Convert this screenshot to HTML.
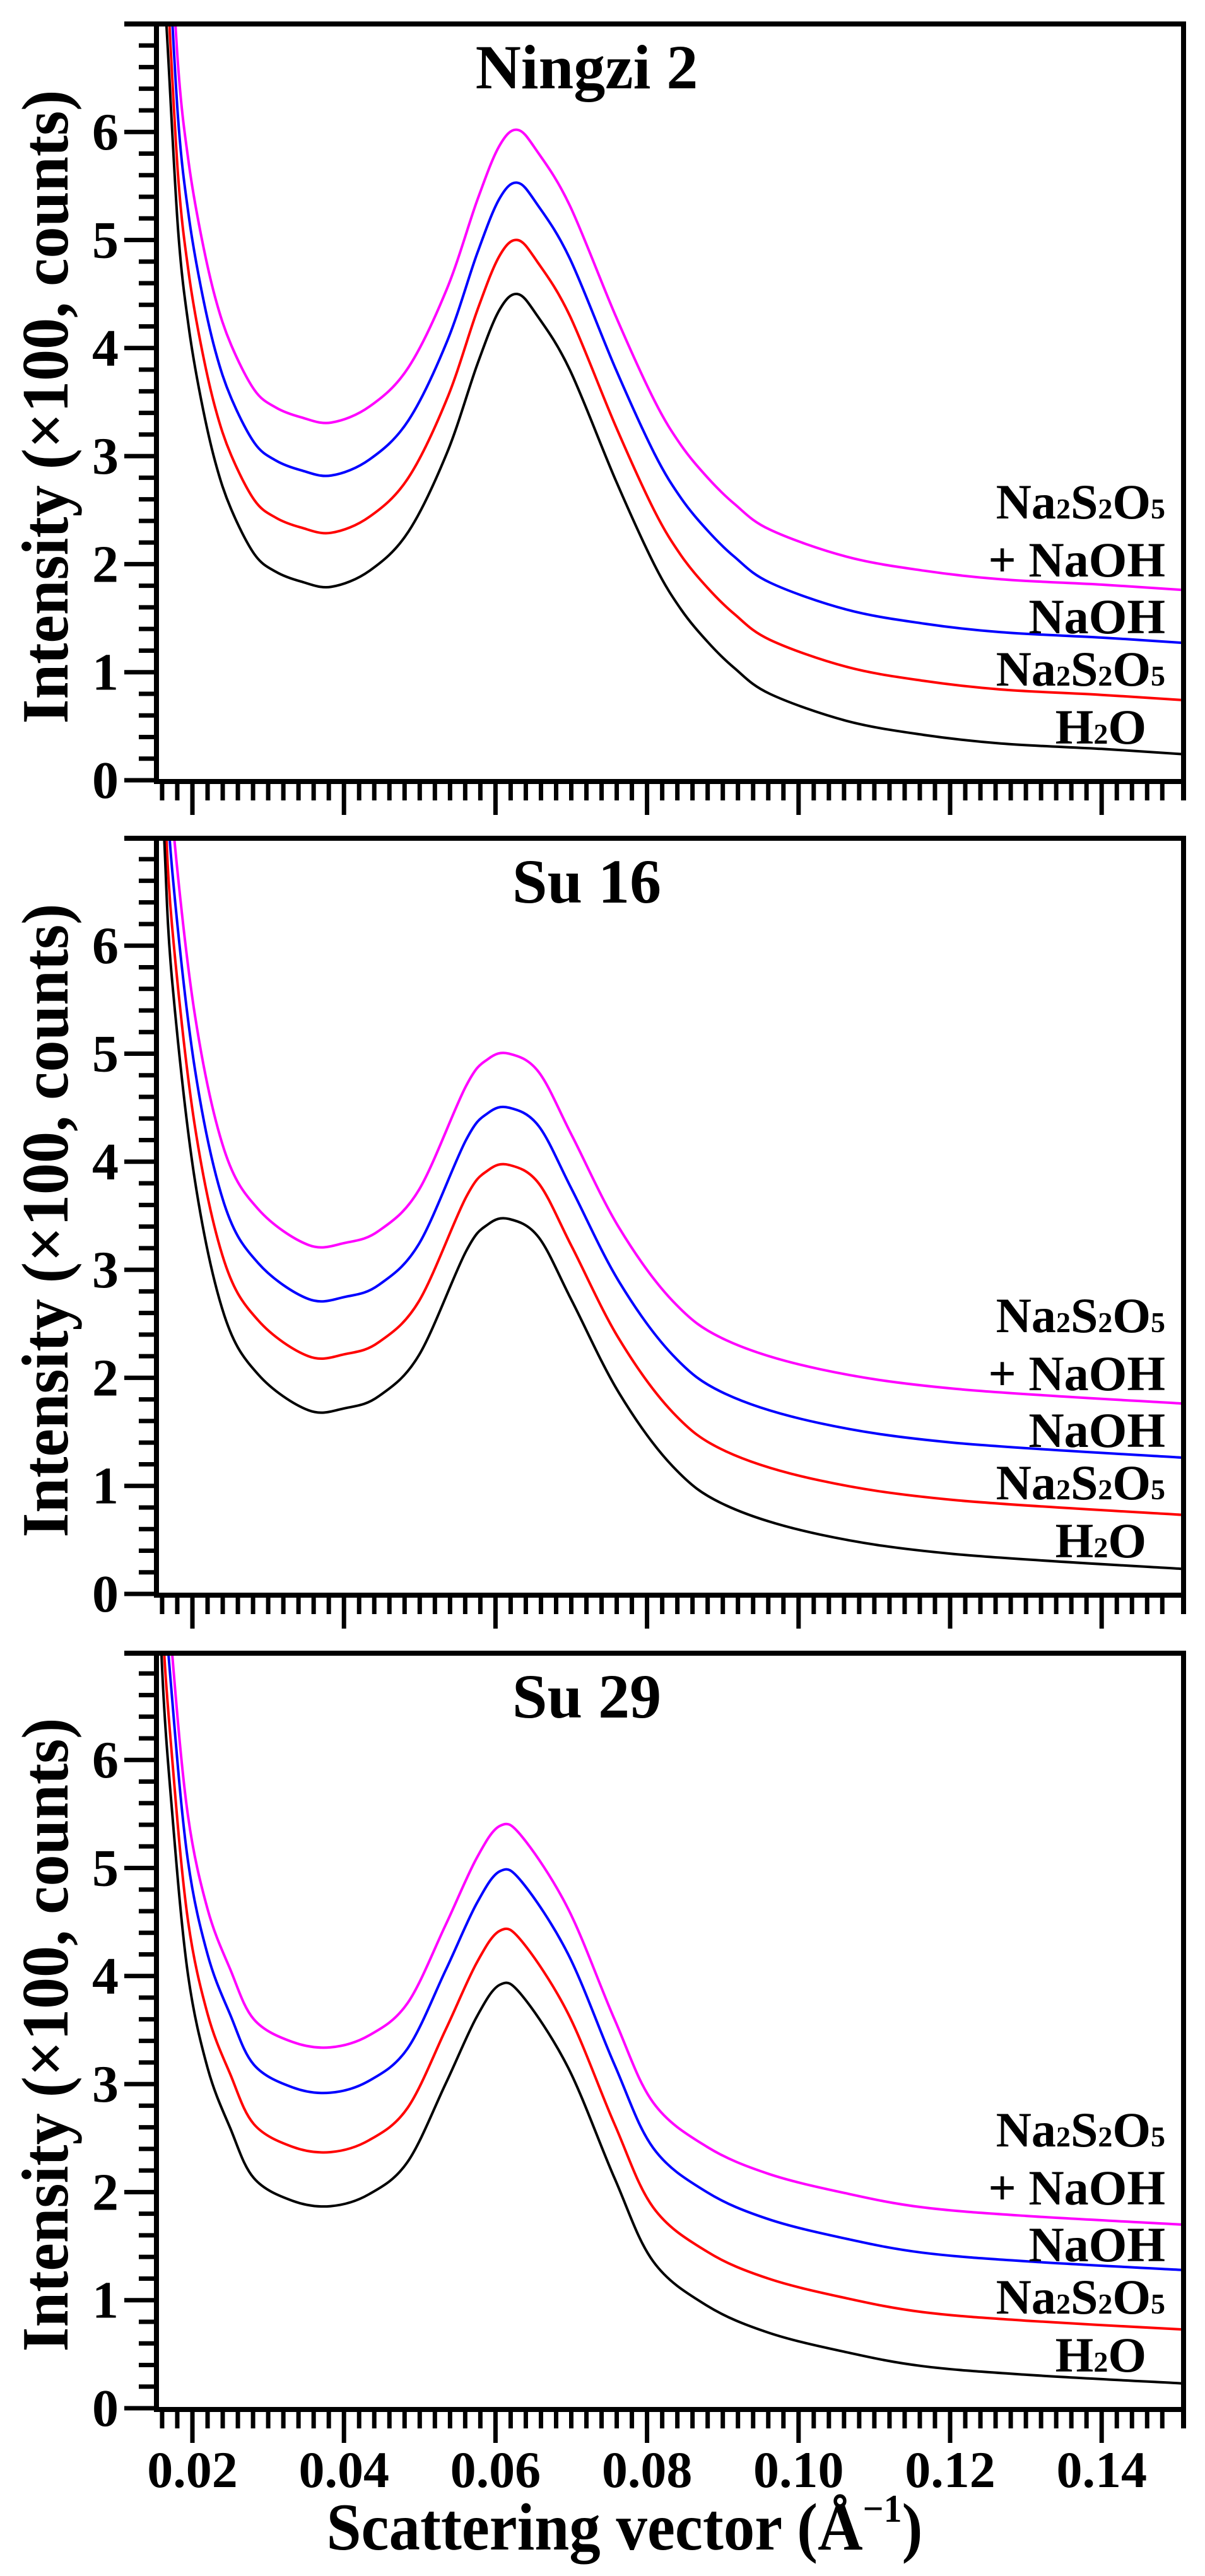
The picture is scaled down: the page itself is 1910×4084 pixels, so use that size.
<!DOCTYPE html>
<html><head><meta charset="utf-8">
<style>
html,body{margin:0;padding:0;background:#fff;}
svg{display:block;}
text{font-family:"Liberation Serif","DejaVu Serif",serif;font-weight:bold;fill:#000;}
</style></head>
<body>
<svg id="s" width="1910" height="4084" viewBox="0 0 1910 4084" xmlns="http://www.w3.org/2000/svg">
<rect width="1910" height="4084" fill="#fff"/>
<g id="g"></g>
<text x="990" y="4042" font-size="106" text-anchor="middle" textLength="945" lengthAdjust="spacingAndGlyphs">Scattering vector (Å<tspan font-size="62" dy="-44">−1</tspan><tspan dy="44">)</tspan></text>
</svg>
<script>
const NS="http://www.w3.org/2000/svg";
const g=document.getElementById('g');
const U=171.3;
const X=q=>305+(q-0.02)*12010;
function el(t,a,txt){const e=document.createElementNS(NS,t);for(const k in a)e.setAttribute(k,a[k]);if(txt!==undefined)e.textContent=txt;g.appendChild(e);return e;}
function path(pts){
 let d="M"+pts[0][0].toFixed(1)+","+pts[0][1].toFixed(1);
 for(let i=0;i<pts.length-1;i++){
  const p0=pts[i-1]||pts[i],p1=pts[i],p2=pts[i+1],p3=pts[i+2]||p2;
  const c1=[p1[0]+(p2[0]-p0[0])/6,p1[1]+(p2[1]-p0[1])/6];
  const c2=[p2[0]-(p3[0]-p1[0])/6,p2[1]-(p3[1]-p1[1])/6];
  d+=" C"+c1[0].toFixed(1)+","+c1[1].toFixed(1)+" "+c2[0].toFixed(1)+","+c2[1].toFixed(1)+" "+p2[0].toFixed(1)+","+p2[1].toFixed(1);
 }
 return d;
}
const panels=[
 {top:38,zero:1237,title:"Ningzi 2",off:[0,.5,1.03,1.52],b:[[.0150,9.5],[.0158,7.8],[.0166,6.95],[.0181,5.10],[.0195,4.2],[.0211,3.54],[.0230,2.95],[.0251,2.51],[.0282,2.09],[.0310,1.93],[.0343,1.84],[.0383,1.79],[.0434,1.94],[.0485,2.30],[.0536,3.03],[.0576,3.85],[.0605,4.35],[.0629,4.50],[.0655,4.3],[.0698,3.80],[.0759,2.77],[.0810,1.99],[.0845,1.58],[.0880,1.28],[.0915,1.04],[.0962,.80],[.1063,.55],[.1165,.42],[.1267,.34],[.1400,.29],[.1510,.24]]},
 {top:1329,zero:2527,title:"Su 16",off:[0,.5,1.03,1.53],b:[[.0150,9.5],[.0157,8.0],[.0163,6.95],[.0173,5.69],[.0203,3.84],[.0242,2.58],[.0287,2.03],[.0353,1.70],[.0402,1.72],[.0446,1.83],[.0499,2.21],[.0561,3.17],[.0590,3.42],[.0618,3.47],[.0657,3.30],[.0701,2.71],[.0763,1.86],[.0834,1.18],[.0904,.82],[.1028,.55],[.1204,.37],[.1510,.23]]},
 {top:2621,zero:3818,title:"Su 29",off:[0,.5,1.05,1.47],b:[[.0150,9.5],[.0159,7.0],[.0174,5.45],[.0194,4.02],[.0220,3.15],[.0250,2.59],[.0281,2.13],[.0332,1.92],[.0382,1.87],[.0433,1.98],[.0484,2.28],[.0534,3.00],[.0575,3.62],[.0606,3.92],[.0635,3.82],[.0696,3.15],[.0757,2.13],[.0808,1.36],[.0879,.95],[.0960,.70],[.1062,.52],[.1163,.39],[.1300,.31],[.1505,.23]]}
];
const cols=["#000","#ff0000","#0000ff","#ff00ff"];
panels.forEach((p,i)=>{
 const Y=v=>p.zero-v*U;
 const axY=p.zero+2;
 const cid="c"+i;
 const cp=el("clipPath",{id:cid});
 const r=document.createElementNS(NS,"rect");
 r.setAttribute("x",248);r.setAttribute("y",p.top);r.setAttribute("width",1628);r.setAttribute("height",axY-p.top);
 cp.appendChild(r);
 for(let k=3;k>=0;k--){
  const pts=p.b.map(([q,v])=>[X(q),Y(v+p.off[k])]);
  el("path",{d:path(pts),fill:"none",stroke:cols[k],"stroke-width":4,"clip-path":"url(#"+cid+")","stroke-linejoin":"round"});
 }
 el("line",{x1:197,y1:p.top,x2:1880,y2:p.top,stroke:"#000","stroke-width":8});
 el("line",{x1:248,y1:p.top-4,x2:248,y2:axY+4,stroke:"#000","stroke-width":8});
 el("line",{x1:1876,y1:p.top-4,x2:1876,y2:axY+30,stroke:"#000","stroke-width":8});
 el("line",{x1:244,y1:axY,x2:1880,y2:axY,stroke:"#000","stroke-width":8});
 for(let j=0;j<35;j++){
  const y=Y(j*0.2);
  const maj=j%5==0;
  el("line",{x1:maj?197:220,y1:y,x2:248,y2:y,stroke:"#000","stroke-width":7});
  if(maj) el("text",{x:188,y:y+28,"font-size":84,"text-anchor":"end"},String(j/5));
 }
 for(let j=8;j<=74;j++){
  const q=j*0.002,x=X(q);
  if(x>1872)continue;
  const maj=j%10==0;
  el("line",{x1:x,y1:axY,x2:x,y2:axY+(maj?53:30),stroke:"#000","stroke-width":7});
 }
 el("text",{x:930,y:p.top+102,"font-size":100,"text-anchor":"middle"},p.title);
 const yc=p.zero-592;
 el("text",{x:0,y:0,"font-size":105,"text-anchor":"middle",textLength:1005,lengthAdjust:"spacingAndGlyphs",transform:"translate(107,"+yc+") rotate(-90)"},"Intensity (×100, counts)");
 const leg=[[-415,"na"],[-323,"+ NaOH"],[-233,"NaOH"],[-150,"na"],[-58,"h2o"]];
 leg.forEach(([dy,t])=>{
  const y=p.zero+dy;
  let e;
  if(t=="na"){
   e=el("text",{x:1847,y:y,"font-size":78,"text-anchor":"end"});
   e.innerHTML='Na<tspan font-size="46">2</tspan>S<tspan font-size="46">2</tspan>O<tspan font-size="46">5</tspan>';
  } else if(t=="h2o"){
   e=el("text",{x:1817,y:y,"font-size":78,"text-anchor":"end"});
   e.innerHTML='H<tspan font-size="46">2</tspan>O';
  } else {
   el("text",{x:1847,y:y,"font-size":78,"text-anchor":"end"},t);
  }
 });
});
["0.02","0.04","0.06","0.08","0.10","0.12","0.14"].forEach((t,i)=>{
 el("text",{x:X(0.02+0.02*i),y:3943,"font-size":82,"text-anchor":"middle"},t);
});
</script>
</body></html>
